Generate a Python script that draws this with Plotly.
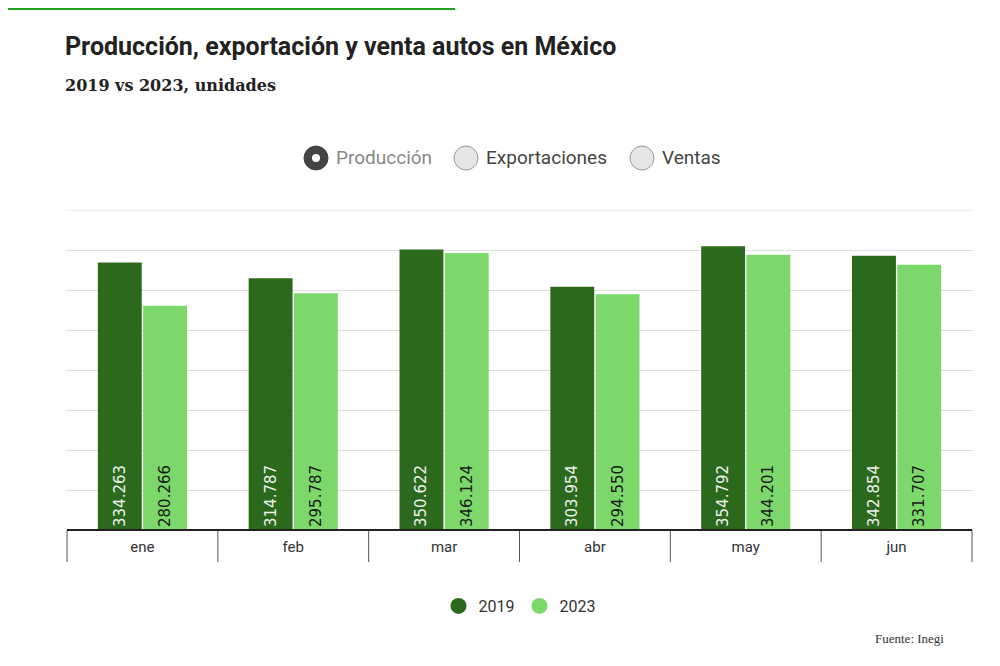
import plotly.graph_objects as go

meses = ["ene", "feb", "mar", "abr", "may", "jun"]
prod_2019 = [334263, 314787, 350622, 303954, 354792, 342854]
prod_2023 = [280266, 295787, 346124, 294550, 344201, 331707]
opciones = ["Producción", "Exportaciones", "Ventas"]

DARK = "#2b6a1c"
LIGHT = "#7dd86c"


def fmt(v):
    return f"{v:,}".replace(",", ".")


fig = go.Figure()

for name, vals, color, txtcolor in [("2019", prod_2019, DARK, "#f0f0f0"),
                                    ("2023", prod_2023, LIGHT, "#1a1a1a")]:
    fig.add_trace(go.Bar(
        x=meses, y=vals, name=name,
        marker=dict(color=color, line=dict(width=0)),
        text=[fmt(v) for v in vals],
        textposition="inside", insidetextanchor="start", textangle=-90,
        textfont=dict(family="DejaVu Sans", size=15, color=txtcolor),
        showlegend=False, hoverinfo="skip",
    ))
    # legend entries with round markers
    fig.add_trace(go.Scatter(
        x=[None], y=[None], mode="markers", name=name,
        marker=dict(symbol="circle", size=20, color=color),
    ))

# category separators below the axis
shapes = []
for i in range(len(meses) + 1):
    shapes.append(dict(type="line", xref="x", yref="paper", x0=i - 0.5, x1=i - 0.5,
                       y0=0, y1=-0.1, line=dict(color="#555", width=1)))
shapes.append(dict(type="line", xref="x", yref="paper", x0=-0.5, x1=len(meses) - 0.5,
                   y0=0, y1=0, line=dict(color="#222", width=2)))
# top gridline
shapes.append(dict(type="line", xref="paper", yref="y", x0=0, x1=1, y0=400000, y1=400000,
                   line=dict(color="#dddddd", width=1)))
# top accent bar
shapes.append(dict(type="rect", xref="paper", yref="paper", x0=-0.08, x1=0.429,
                   y0=1.625, y1=1.64, fillcolor="#1aa51a", line=dict(width=0)))

annotations = [
    dict(text="<b>Producción, exportación y venta autos en México</b>", xref="paper", yref="paper",
         x=-0.003, y=1.51, xanchor="left", yanchor="middle", showarrow=False,
         font=dict(family="Roboto", size=25, color="#222")),
    dict(text="<b>2019 vs 2023, unidades</b>", xref="paper", yref="paper",
         x=-0.003, y=1.39, xanchor="left", yanchor="middle", showarrow=False,
         font=dict(family="DejaVu Serif", size=16, color="#222")),
    dict(text="Fuente: Inegi", xref="paper", yref="paper",
         x=0.97, y=-0.338, xanchor="right", yanchor="middle", showarrow=False,
         font=dict(family="Liberation Serif", size=13, color="#333")),
]

# radio buttons
radio_px = [316, 466, 642]
for j, (label, px) in enumerate(zip(opciones, radio_px)):
    cy = (530 - 158) / 320
    r = 12
    shapes.append(dict(type="circle", xref="paper", yref="paper",
                       x0=(px - 66 - r) / 907, x1=(px - 66 + r) / 907,
                       y0=cy - r / 320, y1=cy + r / 320,
                       fillcolor="#444" if j == 0 else "#e6e6e6",
                       line=dict(color="#444" if j == 0 else "#999", width=1)))
    if j == 0:
        shapes.append(dict(type="circle", xref="paper", yref="paper",
                           x0=(px - 66 - 4) / 907, x1=(px - 66 + 4) / 907,
                           y0=cy - 4 / 320, y1=cy + 4 / 320,
                           fillcolor="white", line=dict(width=0)))
    annotations.append(dict(text=label, xref="paper", yref="paper",
                            x=(px - 66 + r + 6) / 907, y=cy, xanchor="left", yanchor="middle",
                            showarrow=False,
                            font=dict(family="Roboto", size=19,
                                      color="#888" if j == 0 else "#444")))

fig.update_layout(
    width=1000, height=666,
    margin=dict(l=58, r=35, t=202, b=144),
    paper_bgcolor="white", plot_bgcolor="white",
    barmode="group", bargap=0.4, bargroupgap=0.03,
    xaxis=dict(showgrid=False, ticks="", ticklabelstandoff=6,
               tickfont=dict(family="Roboto", size=15, color="#333")),
    yaxis=dict(range=[0, 400000], dtick=50000, showticklabels=False,
               showgrid=True, gridcolor="#dddddd", zeroline=False),
    legend=dict(orientation="h", x=0.5, xanchor="center", y=-0.2375, yanchor="middle",
                font=dict(family="Roboto", size=16, color="#333")),
    shapes=shapes, annotations=annotations,
)

fig.write_html("out.html")
